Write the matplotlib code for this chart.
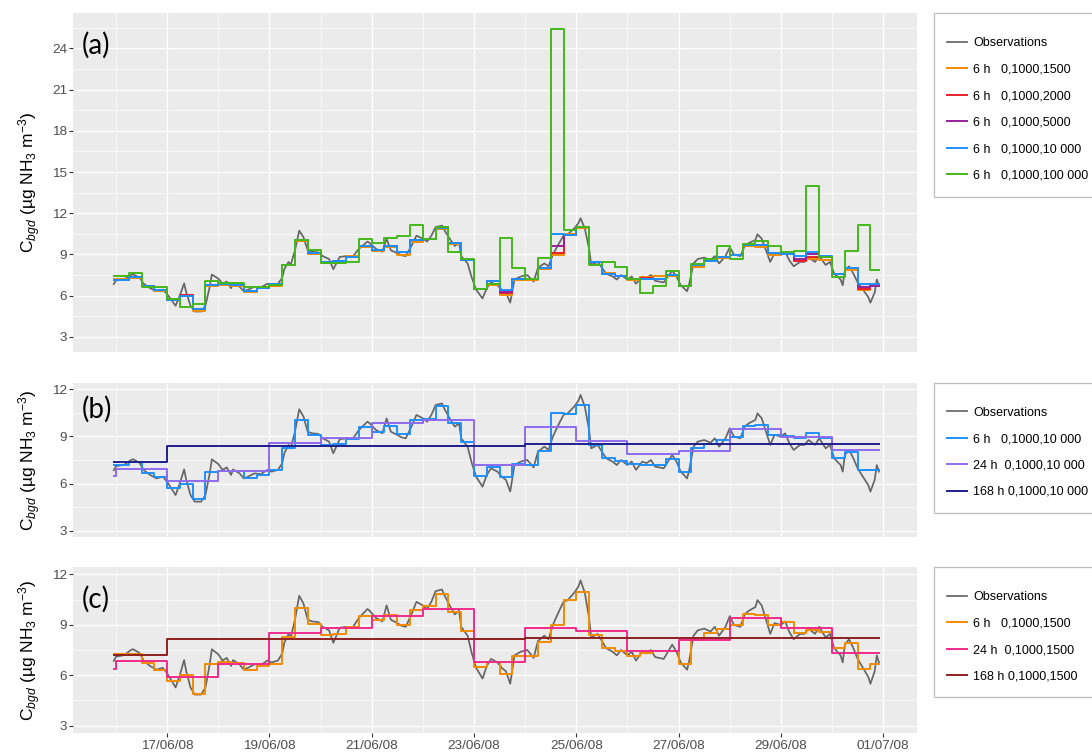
import numpy as np
import matplotlib
matplotlib.use("Agg")
import matplotlib.pyplot as plt
import matplotlib.dates as mdates
from matplotlib.patches import Rectangle
from matplotlib.ticker import MultipleLocator

# ===== data (hours since 16/06/08 00:00) =====
obs_hours = [-1, 0, 4, 7, 8, 11, 13, 16, 19, 22, 24, 26, 28, 30, 32, 33, 35, 37, 40, 42,
             44, 45, 48, 50, 52, 54, 55, 58, 60, 62, 65, 68, 71, 73, 76, 78, 79, 81, 82, 84,
             86, 88, 90, 92, 95, 97, 100, 102, 105, 108, 111, 114, 118, 119, 122, 125, 127, 129, 132, 134,
             136, 139, 141, 144, 146, 148, 150, 153, 154, 157, 159, 161, 162, 165, 167, 169, 172, 174, 176, 179,
             181, 183, 185, 187, 190, 193, 196, 198, 201, 203, 205, 208, 210, 212, 215, 217, 218, 220, 222, 223,
             226, 228, 230, 233, 235, 237, 240, 242, 244, 247, 249, 251, 253, 257, 261, 263, 265, 268, 269, 271,
             273, 276, 279, 281, 283, 286, 288, 290, 293, 295, 297, 300, 301, 303, 305, 307, 309, 312, 314, 316,
             318, 321, 323, 325, 328, 330, 333, 335, 337, 340, 341, 342, 344, 346, 348, 351, 353, 354, 356, 357, 358]
obs_vals = [6.85, 7.1, 7.2, 7.5, 7.55, 7.33, 6.87, 6.55, 6.33, 6.44, 6.12, 5.7, 5.27, 6.02, 6.9, 6.23, 5.27, 4.85, 4.85, 5.27,
            6.65, 7.54, 7.25, 6.87, 7.03, 6.55, 6.9, 6.65, 6.33, 6.44, 6.65, 6.6, 6.87, 6.76, 6.87, 7.29, 7.93, 8.46, 8.24, 9.3,
            10.73, 10.26, 9.3, 9.2, 9.16, 8.88, 8.67, 7.93, 8.82, 8.88, 8.82, 9.41, 9.94, 9.84, 9.41, 9.2, 10.15, 9.3, 9.1, 8.94,
            8.88, 9.73, 10.37, 10.15, 9.94, 10.37, 11.0, 11.1, 10.79, 10.05, 9.62, 9.84, 8.88, 8.35, 7.29, 6.44, 5.8, 6.55, 6.97, 6.76,
            6.44, 6.23, 5.49, 7.18, 7.4, 7.5, 7.03, 8.03, 8.35, 8.14, 8.99, 9.84, 10.37, 10.47, 10.9, 11.28, 11.64, 10.9, 9.41, 8.24,
            8.46, 8.03, 7.61, 7.4, 7.18, 7.5, 7.18, 7.4, 6.87, 7.4, 7.3, 7.5, 7.08, 6.97, 7.82, 7.4, 6.76, 6.33, 6.87, 8.35,
            8.67, 8.77, 8.6, 8.88, 8.35, 8.88, 9.52, 8.99, 8.88, 9.62, 9.84, 10.05, 10.47, 10.15, 9.3, 8.46, 9.1, 8.99, 9.2, 8.56,
            8.14, 8.46, 8.46, 8.77, 8.46, 8.88, 8.24, 8.46, 7.61, 7.18, 6.76, 7.82, 8.14, 7.61, 6.97, 6.33, 5.9, 5.49, 6.23, 7.18, 6.76]

# block edges of the averaging windows
edges_6h = [-1] + list(range(6, 355, 6)) + [358]
edges_24h = [-1] + list(range(0, 337, 24)) + [358]
edges_168h = [-1, 24, 192, 358]

h6_1500 = [7.25, 7.26, 6.7, 6.31, 5.67, 6.02, 4.9, 6.68, 6.77, 6.72, 6.29, 6.55, 6.68, 8.27, 9.98, 9.03, 8.39, 8.45, 8.88, 9.54,
           9.27, 9.57, 8.99, 9.88, 10.13, 10.86, 9.77, 8.62, 6.48, 6.78, 6.07, 7.14, 7.14, 7.95, 8.98, 10.47, 10.93, 8.42, 7.63, 7.43,
           7.17, 7.34, 7.46, 7.46, 6.67, 8.1, 8.53, 8.73, 8.99, 9.62, 9.58, 8.99, 9.19, 8.53, 8.69, 8.59, 7.6, 7.9, 6.39, 6.69]
h6_2000 = [7.15, 7.35, 6.7, 6.44, 5.7, 6.08, 5.02, 6.76, 6.82, 6.8, 6.33, 6.62, 6.85, 8.24, 10.07, 9.1, 8.46, 8.5, 8.82, 9.63,
           9.3, 9.65, 9.16, 10.07, 10.1, 10.92, 9.86, 8.62, 6.48, 7.05, 6.2, 7.22, 7.2, 8.0, 9.12, 10.4, 11.0, 8.46, 7.6, 7.44,
           7.23, 7.3, 7.18, 7.54, 6.72, 8.25, 8.55, 8.8, 8.95, 9.69, 9.72, 9.1, 9.0, 8.55, 8.8, 8.8, 7.6, 8.0, 6.5, 6.75]
h6_5000 = [7.15, 7.35, 6.7, 6.44, 5.7, 6.0, 5.02, 6.76, 6.82, 6.8, 6.33, 6.55, 6.85, 8.24, 10.07, 9.1, 8.46, 8.5, 8.82, 9.63,
           9.3, 9.65, 9.16, 10.07, 10.1, 11.0, 9.86, 8.62, 6.48, 7.05, 6.3, 7.22, 7.2, 8.05, 9.65, 10.4, 11.0, 8.46, 7.6, 7.44,
           7.23, 7.18, 7.18, 7.54, 6.72, 8.25, 8.55, 8.8, 8.95, 9.69, 9.72, 9.1, 9.05, 8.7, 9.0, 8.85, 7.6, 8.0, 6.65, 6.7]
h6_10000 = [7.15, 7.35, 6.7, 6.44, 5.7, 6.0, 5.02, 6.76, 6.82, 6.8, 6.33, 6.55, 6.85, 8.24, 10.07, 9.1, 8.46, 8.5, 8.82, 9.63,
            9.3, 9.65, 9.16, 10.07, 10.1, 10.92, 9.86, 8.62, 6.48, 7.05, 6.42, 7.22, 7.2, 8.05, 10.5, 10.4, 11.0, 8.46, 7.6, 7.44,
            7.23, 7.18, 7.18, 7.54, 6.72, 8.25, 8.55, 8.8, 8.95, 9.69, 9.72, 9.1, 9.05, 8.88, 9.2, 8.88, 7.6, 8.0, 6.87, 6.87]
h6_100000 = [7.4, 7.62, 6.65, 6.6, 5.73, 5.2, 5.37, 7.06, 6.94, 6.9, 6.6, 6.6, 6.8, 8.27, 10.04, 9.3, 8.4, 8.4, 8.45, 10.1,
             9.8, 10.2, 10.35, 11.18, 10.1, 11.0, 9.2, 8.7, 6.5, 6.82, 10.2, 7.98, 7.25, 8.76, 25.4, 10.8, 11.0, 8.2, 8.44, 8.08,
             7.18, 6.2, 6.7, 7.8, 6.7, 8.3, 8.65, 9.6, 8.7, 9.73, 10.0, 9.6, 9.17, 9.24, 13.97, 8.83, 7.38, 9.24, 11.18, 7.84]

h24_10000 = [6.48, 6.9, 6.19, 6.78, 8.6, 8.92, 9.88, 10.03, 7.18, 9.62, 8.73, 7.88, 8.1, 9.48, 8.99, 8.14]
h24_1500 = [6.35, 6.86, 5.9, 6.67, 8.53, 8.82, 9.52, 9.91, 6.77, 8.78, 8.65, 7.46, 8.1, 9.38, 8.78, 7.34]
h168_10000 = [7.38, 8.39, 8.5]
h168_1500 = [7.2, 8.13, 8.22]

major_hours = [24, 72, 120, 168, 216, 264, 312, 360]
minor_hours = [0, 48, 96, 144, 192, 240, 288, 336]

# ===== style =====
plt.rcParams['font.family'] = ['Liberation Sans', 'DejaVu Sans']
plt.rcParams['mathtext.fontset'] = 'custom'
plt.rcParams['mathtext.rm'] = 'Liberation Sans'
plt.rcParams['mathtext.it'] = 'Liberation Sans:italic'

start = np.datetime64('2008-06-16T00:00')


def dates(hours):
    return start + np.array(hours, dtype='timedelta64[h]')


def step(ax, edges, vals, color, label, lw=1.4):
    ax.step(dates(edges), list(vals) + [vals[-1]], where='post', color=color, lw=lw, label=label)


W, H = 1092, 752
fig = plt.figure(figsize=(W / 100, H / 100), dpi=100)


def px_axes(left, top, right, bottom):
    return fig.add_axes([left / W, 1 - bottom / H, (right - left) / W, (bottom - top) / H])


ax_a = px_axes(73.3, 12.7, 917.3, 352.3)
ax_b = px_axes(73.3, 382.7, 917.3, 537.3)
ax_c = px_axes(73.3, 567.3, 917.3, 732.7)

obs_col = '#666666'
for ax in (ax_a, ax_b, ax_c):
    ax.plot(dates(obs_hours), obs_vals, color=obs_col, lw=1.25, label='Observations')

step(ax_a, edges_6h, h6_1500, '#F08C00', '6 h   0,1000,1500')
step(ax_a, edges_6h, h6_2000, '#E8202A', '6 h   0,1000,2000')
step(ax_a, edges_6h, h6_5000, '#98209A', '6 h   0,1000,5000')
step(ax_a, edges_6h, h6_10000, '#1E90FF', '6 h   0,1000,10 000')
step(ax_a, edges_6h, h6_100000, '#44B81A', '6 h   0,1000,100 000')

step(ax_b, edges_6h, h6_10000, '#1E90FF', '6 h   0,1000,10 000')
step(ax_b, edges_24h, h24_10000, '#8F6AF0', '24 h  0,1000,10 000')
step(ax_b, edges_168h, h168_10000, '#1F1F8F', '168 h 0,1000,10 000')

step(ax_c, edges_6h, h6_1500, '#F08C00', '6 h   0,1000,1500')
step(ax_c, edges_24h, h24_1500, '#F22A8C', '24 h  0,1000,1500')
step(ax_c, edges_168h, h168_1500, '#8E2020', '168 h 0,1000,1500')

ylims = {ax_a: (1.88, 26.6), ax_b: (2.58, 12.42), ax_c: (2.58, 12.42)}
for ax in (ax_a, ax_b, ax_c):
    ax.set_facecolor('#EBEBEB')
    for s in ax.spines.values():
        s.set_visible(False)
    ax.set_xlim(dates([-20])[0], dates([376])[0])
    ax.set_ylim(*ylims[ax])
    ax.set_xticks(dates(major_hours))
    ax.set_xticks(dates(minor_hours), minor=True)
    ax.xaxis.set_major_formatter(mdates.DateFormatter('%d/%m/%y'))
    ax.yaxis.set_major_locator(MultipleLocator(3))
    ax.yaxis.set_minor_locator(MultipleLocator(1.5))
    ax.grid(which='major', color='white', lw=0.95)
    ax.grid(which='minor', color='white', lw=0.45)
    ax.set_axisbelow(True)
    ax.tick_params(which='minor', length=0)
    ax.tick_params(axis='y', which='major', length=2.8, width=0.8, color='#333333',
                   labelcolor='#4D4D4D', labelsize=9.7, pad=1.5)
    ax.set_ylabel(r'C$_{\mathit{bgd}}$ (µg NH$_3$ m$^{-3}$)', fontsize=12.5)
    ax.yaxis.set_label_coords(-0.036, 0.5)

ax_a.tick_params(axis='x', which='major', length=0, labelbottom=False)
ax_b.tick_params(axis='x', which='major', length=0, labelbottom=False)
ax_c.tick_params(axis='x', which='major', length=2.8, width=0.8, color='#333333',
                 labelcolor='#4D4D4D', labelsize=9.7, pad=2.5)

# panel letters
for ax, ytop, txt in ((ax_a, 0.945, '(a)'), (ax_b, 0.915, '(b)'), (ax_c, 0.888, '(c)')):
    ax.text(0.0103, ytop, txt, transform=ax.transAxes, ha='left', va='top',
            fontsize=20, family=['Lato', 'DejaVu Sans'], color='black')

# legends in framed boxes on the right
for ax, top, bottom, first in ((ax_a, 12.7, 196.7, 41.7), (ax_b, 382.7, 512.7, 411.0), (ax_c, 567.3, 697.3, 595.7)):
    fig.patches.append(Rectangle((934 / W, 1 - bottom / H), (1100 - 934) / W, (bottom - top) / H,
                                 transform=fig.transFigure, facecolor='white', edgecolor='#BDBDBD', lw=0.9))
    handles, labels = ax.get_legend_handles_labels()
    fig.legend(handles, labels, loc='upper left', bbox_to_anchor=(946.7 / W, 1 - (first - 4.5) / H),
               frameon=False, fontsize=9, borderpad=0, borderaxespad=0, labelspacing=1.16,
               handlelength=1.6, handletextpad=0.53)

fig.savefig('out.png', dpi=100)
